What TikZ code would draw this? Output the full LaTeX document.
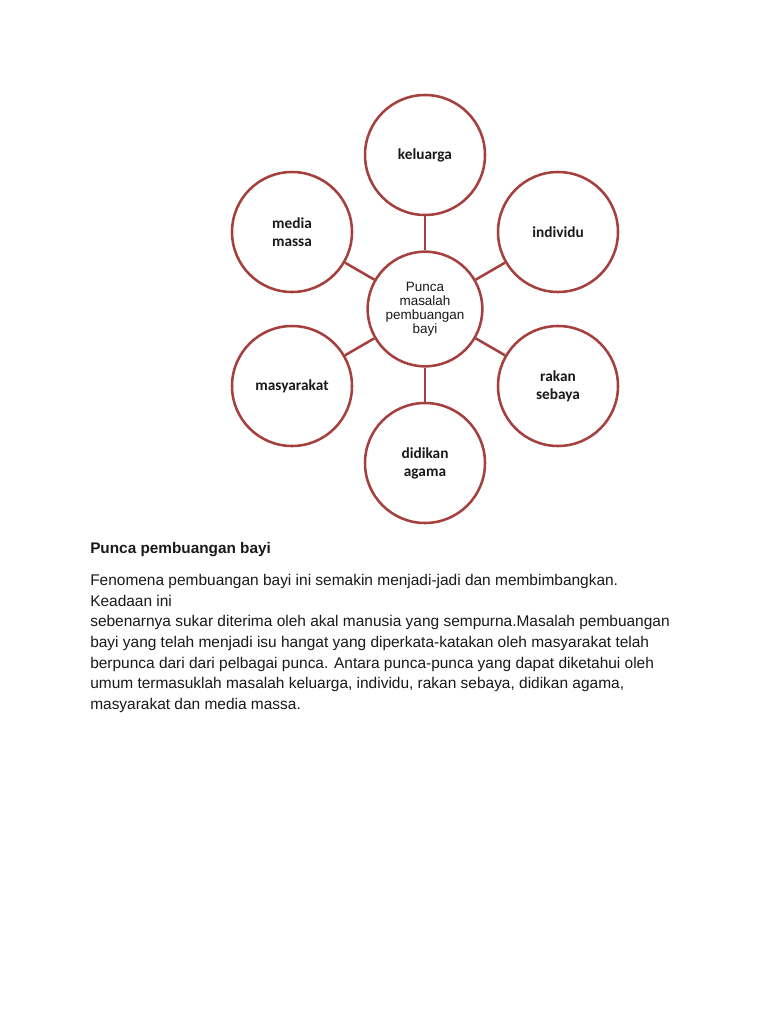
\documentclass[tikz,border=0pt]{standalone}
\usepackage{fontspec}
\setmainfont{Liberation Sans}
\newfontfamily\calib{Carlito}
\usetikzlibrary{positioning}
\definecolor{bata}{HTML}{A4403E}
\definecolor{ink}{HTML}{1A1A1A}

\begin{document}
\begin{tikzpicture}[x=0.75pt,y=-0.75pt,
  bulat/.style={circle,draw=bata,line width=1.9pt,fill=white,minimum size=90pt,inner sep=0pt,align=center,text=ink},
  luar/.style={bulat,font=\calib\fontsize{11.5}{13.6}\selectfont\bfseries},
  tengah/.style={bulat,minimum size=86pt,font=\fontsize{10.1}{10.6}\selectfont},
  garis/.style={draw=bata,line width=1.9pt}]
\useasboundingbox[fill=white] (0,0) rectangle (768,1024);
% rajah punca
\node[tengah] (pusat) at (425,309) {Punca\\masalah\\pembuangan\\bayi};
\node[luar] (kel) at (425,155) {keluarga};
\node[luar] (ind) at (558,232) {individu};
\node[luar] (rak) at (558,386) {rakan\\sebaya};
\node[luar] (did) at (425,463) {didikan\\agama};
\node[luar] (mas) at (292,386) {masyarakat};
\node[luar] (med) at (292,232) {media\\massa};
\foreach \n in {kel,ind,rak,did,mas,med}
  \draw[garis] (pusat) -- (\n);
% teks
\node[anchor=base west,inner sep=0pt,font=\fontsize{11.5}{13}\selectfont\bfseries,text=ink] (tajuk) at (90,553) {Punca pembuangan bayi};
\node[anchor=north west,inner sep=0pt,align=left,font=\fontsize{11.6}{15.5}\selectfont,text=ink] (isi) at (90,574)
  {Fenomena pembuangan bayi ini semakin menjadi-jadi dan membimbangkan.\\
   Keadaan ini\\
   sebenarnya sukar diterima oleh akal manusia yang sempurna.Masalah pembuangan\\
   bayi yang telah menjadi isu hangat yang diperkata-katakan oleh masyarakat telah\\
   berpunca dari dari pelbagai punca. Antara punca-punca yang dapat diketahui oleh\\
   umum termasuklah masalah keluarga, individu, rakan sebaya, didikan agama,\\
   masyarakat dan media massa.};
\end{tikzpicture}
\end{document}
